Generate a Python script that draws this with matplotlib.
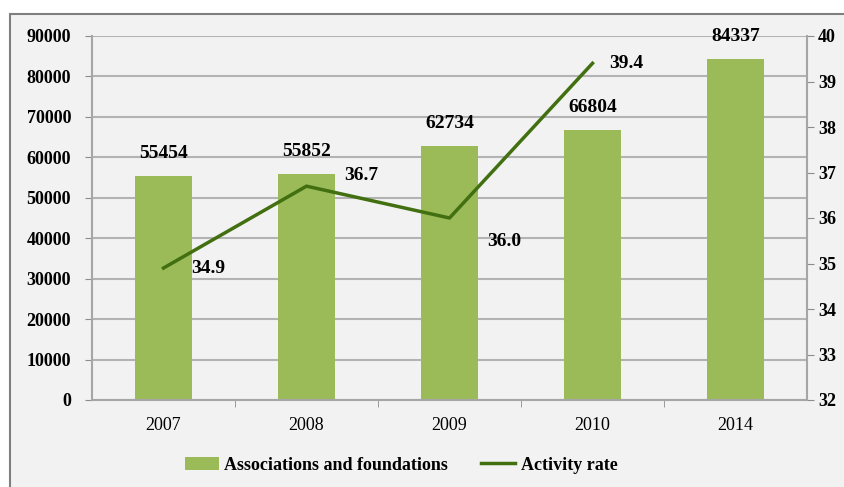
import matplotlib.pyplot as plt
import matplotlib.patches as mpatches
import numpy as np

years = ["2007", "2008", "2009", "2010", "2014"]
associations = [55454, 55852, 62734, 66804, 84337]
activity_rate = [34.9, 36.7, 36.0, 39.4, np.nan]

# label offsets for the line values (points)
rate_offsets = [(20, 0), (27, 8), (27, -17), (12, 0)]

plt.rcParams['font.family'] = ['Liberation Serif', 'DejaVu Serif']

W, H = 845, 487
fig = plt.figure(figsize=(W / 100, H / 100), dpi=100, facecolor='white')

# grey panel with border (the screenshot's frame)
bg = mpatches.Rectangle((10 / W, -0.05), 1.1, 1 - 14 / H + 0.05, transform=fig.transFigure,
                        facecolor='#f2f2f2', edgecolor='#7f7f7f', linewidth=1.5, zorder=-10)
fig.patches.append(bg)

ax = fig.add_axes([92 / W, 1 - 400 / H, (807 - 92) / W, (400 - 36) / H])
ax.set_facecolor('none')
x = np.arange(len(years))

bar_color = '#9bbb59'
line_color = '#427010'

bars = ax.bar(x, associations, width=0.4, color=bar_color, zorder=2,
              label='Associations and foundations')
for xi, v in zip(x, associations):
    ax.text(xi, v + 3500, str(v), ha='center', va='bottom', fontsize=14,
            fontweight='bold', clip_on=False)

ax.set_ylim(0, 90000)
ax.set_yticks(np.arange(0, 90001, 10000))
ax.set_yticklabels([str(t) for t in range(0, 90001, 10000)], fontsize=13, fontweight='bold')
ax.set_xlim(-0.5, len(years) - 0.5)
ax.set_xticks(x)
ax.set_xticklabels(years, fontsize=13)
ax.set_xticks(np.arange(0.5, len(years) - 0.5, 1), minor=True)
ax.tick_params(axis='x', which='major', length=0, pad=12)
ax.tick_params(axis='x', which='minor', length=5, color='#8c8c8c')
ax.tick_params(axis='y', length=5, color='#8c8c8c', pad=10)
ax.grid(axis='y', color='#b3b3b3', linewidth=1.5, zorder=0)
ax.set_axisbelow(True)
for s in ['top', 'right']:
    ax.spines[s].set_visible(False)
for s in ['left', 'bottom']:
    ax.spines[s].set_color('#a6a6a6')
    ax.spines[s].set_linewidth(1.5)

ax2 = ax.twinx()
line, = ax2.plot(x, activity_rate, color=line_color, linewidth=2.5, zorder=3,
                 label='Activity rate')
for xi, v, off in zip(x, activity_rate, rate_offsets):
    ax2.annotate(f"{v:.1f}", (xi, v), xytext=off, textcoords='offset points',
                 ha='left', va='center', fontsize=14, fontweight='bold')
ax2.set_ylim(32, 40)
ax2.set_yticks(np.arange(32, 41, 1))
ax2.set_yticklabels([str(t) for t in range(32, 41)], fontsize=13, fontweight='bold')
ax2.tick_params(axis='y', length=5, color='#8c8c8c', pad=3)
for s in ['top', 'left', 'bottom']:
    ax2.spines[s].set_visible(False)
ax2.spines['right'].set_color('#a6a6a6')
ax2.spines['right'].set_linewidth(1.5)

leg = fig.legend(handles=[bars, line], loc='center', bbox_to_anchor=(401 / W, 1 - 465 / H),
                 ncol=2, frameon=False, prop={'weight': 'bold', 'size': 13},
                 handlelength=1.9, handletextpad=0.3, columnspacing=1.8)

fig.savefig('out.png', dpi=100, facecolor=fig.get_facecolor())
